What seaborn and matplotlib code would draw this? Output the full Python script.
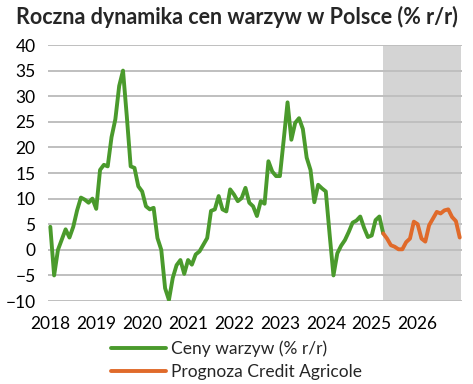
import numpy as np
import pandas as pd
import seaborn as sns
import matplotlib.pyplot as plt

# --- Data (monthly, Jan 2018 = month 0) ---
YEARS = ['2018', '2019', '2020', '2021', '2022', '2023', '2024', '2025', '2026']

# Ceny warzyw (% r/r), Jan 2018 - Apr 2025
veg_prices = [
    4.5, -5.0, 0.0, 2.0, 4.0, 2.4, 4.5, 7.7, 10.2, 9.8, 9.2, 10.0,
    8.0, 15.6, 16.6, 16.3, 22.0, 25.5, 32.0, 35.0, 26.0, 16.3, 16.0, 12.4,
    11.4, 8.5, 7.9, 8.2, 2.3, 0.0, -7.5, -9.8, -5.5, -3.0, -2.0, -4.7,
    -2.0, -2.9, -0.9, -0.3, 1.0, 2.3, 7.6, 7.9, 10.5, 7.9, 7.5, 11.8,
    10.8, 9.5, 10.1, 12.1, 9.2, 8.5, 6.6, 9.5, 9.0, 17.3, 15.3, 14.4,
    14.4, 21.5, 28.8, 21.5, 24.8, 25.7, 23.6, 18.0, 15.6, 9.3, 12.7, 12.0,
    11.4, 3.0, -5.0, -0.7, 0.8, 1.9, 3.5, 5.3, 5.7, 6.5, 4.3, 2.5,
    2.8, 5.8, 6.5, 3.2,
]

# Prognoza Credit Agricole, Apr 2025 - Dec 2026
forecast = [
    3.2, 2.2, 0.9, 0.6, 0.1, 0.1, 1.5, 2.2, 5.5, 5.0, 2.2, 1.6,
    4.8, 6.1, 7.4, 7.1, 7.7, 7.9, 6.4, 5.6, 2.4,
]
FORECAST_START = 87

GREEN = '#4A9A2C'
ORANGE = '#E06A2A'

df_actual = pd.DataFrame({'month': np.arange(len(veg_prices)), 'value': veg_prices})
df_fc = pd.DataFrame({'month': np.arange(FORECAST_START, FORECAST_START + len(forecast)),
                      'value': forecast})

sns.set_theme(style='white')
plt.rcParams['font.family'] = ['Lato', 'DejaVu Sans']

fig = plt.figure(figsize=(4.73, 3.84), dpi=100)
ax = fig.add_axes([0.1015, 0.2161, 0.8753, 0.6667])

# forecast period shading
ax.axvspan(FORECAST_START, df_fc['month'].max() + 0.3, color='#D4D4D4', lw=0, zorder=0)

sns.lineplot(data=df_actual, x='month', y='value', ax=ax, color=GREEN, lw=2.8,
             label='Ceny warzyw (% r/r)')
sns.lineplot(data=df_fc, x='month', y='value', ax=ax, color=ORANGE, lw=2.8,
             label='Prognoza Credit Agricole')

ax.set_xlim(-0.6, 107.6)
ax.set_ylim(-10, 40)
ax.set_yticks(np.arange(-10, 41, 5))
ax.set_xticks(np.arange(0, 12 * len(YEARS), 12))
ax.set_xticklabels(YEARS)
ax.set_xlabel('')
ax.set_ylabel('')
ax.tick_params(axis='both', length=0, labelsize=12.5, colors='#000000')
ax.tick_params(axis='x', pad=11)
ax.tick_params(axis='y', pad=9)

ax.set_axisbelow(True)
ax.yaxis.grid(True, color='#BFBFBF', lw=1.4)
ax.xaxis.grid(False)
for s in ax.spines.values():
    s.set_visible(False)

handles, labels = ax.get_legend_handles_labels()
ax.get_legend().remove()
fig.legend(handles, labels, loc='center', bbox_to_anchor=(0.5, 0.061), frameon=False,
           fontsize=12.5, handlelength=3.2, handletextpad=0.3, labelspacing=0.4)

fig.text(0.5, 1 - 17 / 384, 'Roczna dynamika cen warzyw w Polsce (% r/r)',
         ha='center', va='center', fontsize=15.5, fontweight='bold')

fig.savefig('out.png', dpi=100)
